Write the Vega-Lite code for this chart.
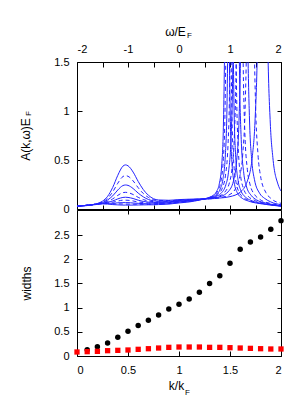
{
"$schema": "https://vega.github.io/schema/vega-lite/v6.json",
"padding": {"left": 18, "top": 24, "right": 5, "bottom": 5},
"background": "white",
"config": {
  "view": {"stroke": "black", "strokeWidth": 1},
  "axis": {"labelFont": "Liberation Sans", "labelFontSize": 11, "labelColor": "black", "titleFont": "Liberation Sans", "titleFontSize": 12, "titleFontWeight": "normal", "titleColor": "black", "tickColor": "black", "domain": false, "grid": false}
},
"datasets": {
"spec": [
{"c":1,"w":-2,"a":0.028},{"c":1,"w":-1.8,"a":0.038},{"c":1,"w":-1.6,"a":0.056},{"c":1,"w":-1.5,"a":0.080},{"c":1,"w":-1.4,"a":0.129},{"c":1,"w":-1.3,"a":0.220},{"c":1,"w":-1.2,"a":0.344},{"c":1,"w":-1.1,"a":0.437},{"c":1,"w":-1.05,"a":0.450},{"c":1,"w":-1.0,"a":0.441},{"c":1,"w":-0.9,"a":0.377},{"c":1,"w":-0.8,"a":0.281},{"c":1,"w":-0.7,"a":0.198},{"c":1,"w":-0.6,"a":0.140},{"c":1,"w":-0.5,"a":0.105},{"c":1,"w":-0.4,"a":0.092},{"c":1,"w":-0.2,"a":0.089},{"c":1,"w":0,"a":0.096},{"c":1,"w":0.2,"a":0.100},{"c":1,"w":0.4,"a":0.103},{"c":1,"w":0.6,"a":0.104},
{"c":1,"w":0.8,"a":0.112},{"c":1,"w":1.0,"a":0.126},{"c":1,"w":1.2,"a":0.172},{"c":1,"w":1.34,"a":0.285},{"c":1,"w":1.44,"a":0.547},{"c":1,"w":1.49,"a":0.89},{"c":1,"w":1.54,"a":1.73},{"c":1,"w":1.57,"a":2.9},{"c":1,"w":1.64,"a":4},{"c":1,"w":1.71,"a":2.9},{"c":1,"w":1.74,"a":1.72},{"c":1,"w":1.79,"a":0.877},{"c":1,"w":1.84,"a":0.527},{"c":1,"w":1.94,"a":0.254},{"c":1,"w":2.0,"a":0.184},
{"c":2,"w":-2,"a":0.028},{"c":2,"w":-1.8,"a":0.038},{"c":2,"w":-1.6,"a":0.054},{"c":2,"w":-1.5,"a":0.073},{"c":2,"w":-1.4,"a":0.109},{"c":2,"w":-1.3,"a":0.174},{"c":2,"w":-1.2,"a":0.263},{"c":2,"w":-1.1,"a":0.331},{"c":2,"w":-1.05,"a":0.340},{"c":2,"w":-1.0,"a":0.334},{"c":2,"w":-0.9,"a":0.287},{"c":2,"w":-0.8,"a":0.217},{"c":2,"w":-0.7,"a":0.158},{"c":2,"w":-0.6,"a":0.118},{"c":2,"w":-0.5,"a":0.096},{"c":2,"w":-0.4,"a":0.086},{"c":2,"w":-0.2,"a":0.085},{"c":2,"w":0,"a":0.091},{"c":2,"w":0.2,"a":0.096},{"c":2,"w":0.4,"a":0.100},{"c":2,"w":0.6,"a":0.104},
{"c":2,"w":0.8,"a":0.115},{"c":2,"w":1.0,"a":0.149},{"c":2,"w":1.1,"a":0.201},{"c":2,"w":1.2,"a":0.353},{"c":2,"w":1.25,"a":0.561},{"c":2,"w":1.3,"a":1.094},{"c":2,"w":1.33,"a":1.906},{"c":2,"w":1.35,"a":3.0},{"c":2,"w":1.4,"a":4},{"c":2,"w":1.45,"a":3.0},{"c":2,"w":1.47,"a":1.899},{"c":2,"w":1.5,"a":1.086},{"c":2,"w":1.55,"a":0.548},{"c":2,"w":1.6,"a":0.333},{"c":2,"w":1.7,"a":0.171},{"c":2,"w":1.8,"a":0.109},{"c":2,"w":2.0,"a":0.058},
{"c":3,"w":-2,"a":0.028},{"c":3,"w":-1.8,"a":0.038},{"c":3,"w":-1.6,"a":0.053},{"c":3,"w":-1.5,"a":0.067},{"c":3,"w":-1.4,"a":0.092},{"c":3,"w":-1.3,"a":0.134},{"c":3,"w":-1.2,"a":0.194},{"c":3,"w":-1.1,"a":0.239},{"c":3,"w":-1.05,"a":0.245},{"c":3,"w":-1.0,"a":0.241},{"c":3,"w":-0.9,"a":0.209},{"c":3,"w":-0.8,"a":0.162},{"c":3,"w":-0.7,"a":0.124},{"c":3,"w":-0.6,"a":0.097},{"c":3,"w":-0.5,"a":0.084},{"c":3,"w":-0.4,"a":0.079},{"c":3,"w":-0.2,"a":0.079},{"c":3,"w":0,"a":0.087},{"c":3,"w":0.2,"a":0.094},{"c":3,"w":0.4,"a":0.100},{"c":3,"w":0.6,"a":0.107},
{"c":3,"w":0.8,"a":0.125},{"c":3,"w":0.98,"a":0.186},{"c":3,"w":1.08,"a":0.314},{"c":3,"w":1.13,"a":0.490},{"c":3,"w":1.18,"a":0.959},{"c":3,"w":1.21,"a":1.70},{"c":3,"w":1.23,"a":2.76},{"c":3,"w":1.28,"a":4},{"c":3,"w":1.33,"a":2.75},{"c":3,"w":1.35,"a":1.70},{"c":3,"w":1.38,"a":0.954},{"c":3,"w":1.43,"a":0.480},{"c":3,"w":1.48,"a":0.299},{"c":3,"w":1.58,"a":0.161},{"c":3,"w":1.68,"a":0.108},{"c":3,"w":1.8,"a":0.072},{"c":3,"w":2.0,"a":0.044},
{"c":4,"w":-2,"a":0.028},{"c":4,"w":-1.8,"a":0.038},{"c":4,"w":-1.6,"a":0.052},{"c":4,"w":-1.5,"a":0.063},{"c":4,"w":-1.4,"a":0.078},{"c":4,"w":-1.3,"a":0.103},{"c":4,"w":-1.2,"a":0.139},{"c":4,"w":-1.1,"a":0.167},{"c":4,"w":-1.05,"a":0.170},{"c":4,"w":-1.0,"a":0.167},{"c":4,"w":-0.9,"a":0.148},{"c":4,"w":-0.8,"a":0.119},{"c":4,"w":-0.7,"a":0.096},{"c":4,"w":-0.6,"a":0.082},{"c":4,"w":-0.5,"a":0.075},{"c":4,"w":-0.4,"a":0.072},{"c":4,"w":-0.2,"a":0.074},{"c":4,"w":0,"a":0.082},{"c":4,"w":0.2,"a":0.090},{"c":4,"w":0.4,"a":0.098},{"c":4,"w":0.6,"a":0.108},
{"c":4,"w":0.8,"a":0.134},{"c":4,"w":0.89,"a":0.167},{"c":4,"w":0.99,"a":0.271},{"c":4,"w":1.04,"a":0.415},{"c":4,"w":1.09,"a":0.805},{"c":4,"w":1.12,"a":1.448},{"c":4,"w":1.14,"a":2.42},{"c":4,"w":1.19,"a":4},{"c":4,"w":1.24,"a":2.41},{"c":4,"w":1.26,"a":1.44},{"c":4,"w":1.29,"a":0.798},{"c":4,"w":1.34,"a":0.404},{"c":4,"w":1.39,"a":0.256},{"c":4,"w":1.49,"a":0.142},{"c":4,"w":1.59,"a":0.096},{"c":4,"w":1.8,"a":0.056},{"c":4,"w":2.0,"a":0.037},
{"c":5,"w":-2,"a":0.028},{"c":5,"w":-1.8,"a":0.038},{"c":5,"w":-1.6,"a":0.051},{"c":5,"w":-1.5,"a":0.060},{"c":5,"w":-1.4,"a":0.069},{"c":5,"w":-1.3,"a":0.082},{"c":5,"w":-1.2,"a":0.103},{"c":5,"w":-1.1,"a":0.118},{"c":5,"w":-1.05,"a":0.120},{"c":5,"w":-1.0,"a":0.118},{"c":5,"w":-0.9,"a":0.107},{"c":5,"w":-0.8,"a":0.090},{"c":5,"w":-0.7,"a":0.077},{"c":5,"w":-0.6,"a":0.070},{"c":5,"w":-0.5,"a":0.067},{"c":5,"w":-0.4,"a":0.067},{"c":5,"w":-0.2,"a":0.070},{"c":5,"w":0,"a":0.079},{"c":5,"w":0.2,"a":0.087},{"c":5,"w":0.4,"a":0.097},{"c":5,"w":0.6,"a":0.111},
{"c":5,"w":0.72,"a":0.127},{"c":5,"w":0.82,"a":0.158},{"c":5,"w":0.92,"a":0.249},{"c":5,"w":0.97,"a":0.375},{"c":5,"w":1.02,"a":0.716},{"c":5,"w":1.05,"a":1.28},{"c":5,"w":1.07,"a":2.13},{"c":5,"w":1.12,"a":4},{"c":5,"w":1.17,"a":2.12},{"c":5,"w":1.19,"a":1.27},{"c":5,"w":1.22,"a":0.711},{"c":5,"w":1.27,"a":0.366},{"c":5,"w":1.32,"a":0.235},{"c":5,"w":1.42,"a":0.136},{"c":5,"w":1.52,"a":0.093},{"c":5,"w":1.7,"a":0.061},{"c":5,"w":2.0,"a":0.034},
{"c":6,"w":-2,"a":0.028},{"c":6,"w":-1.8,"a":0.038},{"c":6,"w":-1.6,"a":0.051},{"c":6,"w":-1.5,"a":0.058},{"c":6,"w":-1.4,"a":0.063},{"c":6,"w":-1.3,"a":0.069},{"c":6,"w":-1.2,"a":0.081},{"c":6,"w":-1.1,"a":0.090},{"c":6,"w":-1.05,"a":0.090},{"c":6,"w":-1.0,"a":0.089},{"c":6,"w":-0.9,"a":0.082},{"c":6,"w":-0.8,"a":0.072},{"c":6,"w":-0.7,"a":0.066},{"c":6,"w":-0.6,"a":0.061},{"c":6,"w":-0.5,"a":0.060},{"c":6,"w":-0.4,"a":0.061},{"c":6,"w":-0.2,"a":0.065},{"c":6,"w":0,"a":0.074},{"c":6,"w":0.2,"a":0.083},{"c":6,"w":0.4,"a":0.096},{"c":6,"w":0.6,"a":0.113},
{"c":6,"w":0.66,"a":0.121},{"c":6,"w":0.76,"a":0.148},{"c":6,"w":0.86,"a":0.228},{"c":6,"w":0.91,"a":0.338},{"c":6,"w":0.96,"a":0.643},{"c":6,"w":0.99,"a":1.166},{"c":6,"w":1.01,"a":2.01},{"c":6,"w":1.06,"a":4},{"c":6,"w":1.11,"a":2.0},{"c":6,"w":1.13,"a":1.16},{"c":6,"w":1.16,"a":0.638},{"c":6,"w":1.21,"a":0.33},{"c":6,"w":1.26,"a":0.216},{"c":6,"w":1.36,"a":0.128},{"c":6,"w":1.46,"a":0.094},{"c":6,"w":1.7,"a":0.055},{"c":6,"w":2.0,"a":0.032},
{"c":7,"w":-2,"a":0.028},{"c":7,"w":-1.8,"a":0.038},{"c":7,"w":-1.6,"a":0.050},{"c":7,"w":-1.5,"a":0.056},{"c":7,"w":-1.4,"a":0.059},{"c":7,"w":-1.3,"a":0.058},{"c":7,"w":-1.2,"a":0.063},{"c":7,"w":-1.1,"a":0.065},{"c":7,"w":-1.05,"a":0.065},{"c":7,"w":-1.0,"a":0.065},{"c":7,"w":-0.9,"a":0.061},{"c":7,"w":-0.8,"a":0.058},{"c":7,"w":-0.7,"a":0.055},{"c":7,"w":-0.6,"a":0.053},{"c":7,"w":-0.5,"a":0.053},{"c":7,"w":-0.4,"a":0.056},{"c":7,"w":-0.2,"a":0.060},{"c":7,"w":0,"a":0.070},{"c":7,"w":0.2,"a":0.080},{"c":7,"w":0.4,"a":0.093},{"c":7,"w":0.6,"a":0.115},
{"c":7,"w":0.71,"a":0.138},{"c":7,"w":0.81,"a":0.206},{"c":7,"w":0.86,"a":0.299},{"c":7,"w":0.91,"a":0.560},{"c":7,"w":0.94,"a":1.02},{"c":7,"w":0.96,"a":1.80},{"c":7,"w":1.01,"a":4},{"c":7,"w":1.06,"a":1.79},{"c":7,"w":1.08,"a":1.01},{"c":7,"w":1.11,"a":0.553},{"c":7,"w":1.16,"a":0.288},{"c":7,"w":1.21,"a":0.192},{"c":7,"w":1.31,"a":0.118},{"c":7,"w":1.41,"a":0.088},{"c":7,"w":1.7,"a":0.050},{"c":7,"w":2.0,"a":0.030},
{"c":8,"w":-2,"a":0.028},{"c":8,"w":-1.8,"a":0.038},{"c":8,"w":-1.6,"a":0.050},{"c":8,"w":-1.5,"a":0.055},{"c":8,"w":-1.4,"a":0.056},{"c":8,"w":-1.3,"a":0.052},{"c":8,"w":-1.2,"a":0.052},{"c":8,"w":-1.1,"a":0.051},{"c":8,"w":-1.05,"a":0.050},{"c":8,"w":-1.0,"a":0.050},{"c":8,"w":-0.9,"a":0.049},{"c":8,"w":-0.8,"a":0.049},{"c":8,"w":-0.7,"a":0.048},{"c":8,"w":-0.6,"a":0.047},{"c":8,"w":-0.5,"a":0.047},{"c":8,"w":-0.4,"a":0.050},{"c":8,"w":-0.2,"a":0.055},{"c":8,"w":0,"a":0.066},{"c":8,"w":0.2,"a":0.077},{"c":8,"w":0.4,"a":0.092},{"c":8,"w":0.6,"a":0.118},
{"c":8,"w":0.67,"a":0.134},{"c":8,"w":0.77,"a":0.193},{"c":8,"w":0.82,"a":0.278},{"c":8,"w":0.87,"a":0.513},{"c":8,"w":0.9,"a":0.928},{"c":8,"w":0.92,"a":1.63},{"c":8,"w":0.97,"a":4},{"c":8,"w":1.02,"a":1.62},{"c":8,"w":1.04,"a":0.92},{"c":8,"w":1.07,"a":0.506},{"c":8,"w":1.12,"a":0.268},{"c":8,"w":1.17,"a":0.180},{"c":8,"w":1.27,"a":0.114},{"c":8,"w":1.37,"a":0.087},{"c":8,"w":1.7,"a":0.048},{"c":8,"w":2.0,"a":0.029},
{"c":9,"w":-2,"a":0.025},{"c":9,"w":-1.8,"a":0.035},{"c":9,"w":-1.6,"a":0.047},{"c":9,"w":-1.5,"a":0.052},{"c":9,"w":-1.4,"a":0.050},{"c":9,"w":-1.3,"a":0.045},{"c":9,"w":-1.2,"a":0.042},{"c":9,"w":-1.1,"a":0.040},{"c":9,"w":-1.05,"a":0.040},{"c":9,"w":-1.0,"a":0.040},{"c":9,"w":-0.9,"a":0.040},{"c":9,"w":-0.8,"a":0.041},{"c":9,"w":-0.7,"a":0.042},{"c":9,"w":-0.6,"a":0.043},{"c":9,"w":-0.5,"a":0.043},{"c":9,"w":-0.4,"a":0.045},{"c":9,"w":-0.2,"a":0.050},{"c":9,"w":0,"a":0.062},{"c":9,"w":0.2,"a":0.072},{"c":9,"w":0.4,"a":0.091},{"c":9,"w":0.6,"a":0.120},
{"c":9,"w":0.64,"a":0.129},{"c":9,"w":0.74,"a":0.182},{"c":9,"w":0.79,"a":0.257},{"c":9,"w":0.84,"a":0.466},{"c":9,"w":0.87,"a":0.835},{"c":9,"w":0.89,"a":1.46},{"c":9,"w":0.94,"a":4},{"c":9,"w":0.99,"a":1.45},{"c":9,"w":1.01,"a":0.83},{"c":9,"w":1.04,"a":0.459},{"c":9,"w":1.09,"a":0.247},{"c":9,"w":1.14,"a":0.169},{"c":9,"w":1.24,"a":0.109},{"c":9,"w":1.34,"a":0.085},{"c":9,"w":1.7,"a":0.047},{"c":9,"w":2.0,"a":0.029}
],
"widths": [
{"series":"a","k":0.1,"v":0.13},{"series":"a","k":0.2,"v":0.19},{"series":"a","k":0.3,"v":0.27},{"series":"a","k":0.4,"v":0.39},{"series":"a","k":0.5,"v":0.51},{"series":"a","k":0.6,"v":0.63},{"series":"a","k":0.7,"v":0.74},{"series":"a","k":0.8,"v":0.85},{"series":"a","k":0.9,"v":0.97},{"series":"a","k":1.0,"v":1.07},{"series":"a","k":1.1,"v":1.18},{"series":"a","k":1.2,"v":1.32},{"series":"a","k":1.3,"v":1.50},{"series":"a","k":1.4,"v":1.66},{"series":"a","k":1.5,"v":1.92},{"series":"a","k":1.6,"v":2.21},{"series":"a","k":1.7,"v":2.36},{"series":"a","k":1.8,"v":2.46},{"series":"a","k":1.9,"v":2.62},{"series":"a","k":2.0,"v":2.80},
{"series":"b","k":0,"v":0.083},{"series":"b","k":0.1,"v":0.090},{"series":"b","k":0.2,"v":0.096},{"series":"b","k":0.3,"v":0.110},{"series":"b","k":0.4,"v":0.117},{"series":"b","k":0.5,"v":0.124},{"series":"b","k":0.6,"v":0.138},{"series":"b","k":0.7,"v":0.151},{"series":"b","k":0.8,"v":0.165},{"series":"b","k":0.9,"v":0.179},{"series":"b","k":1.0,"v":0.186},{"series":"b","k":1.1,"v":0.186},{"series":"b","k":1.2,"v":0.186},{"series":"b","k":1.3,"v":0.179},{"series":"b","k":1.4,"v":0.179},{"series":"b","k":1.5,"v":0.172},{"series":"b","k":1.6,"v":0.165},{"series":"b","k":1.7,"v":0.158},{"series":"b","k":1.8,"v":0.151},{"series":"b","k":1.9,"v":0.145},{"series":"b","k":2.0,"v":0.145}
]
},
"spacing": 1,
"bounds": "flush",
"vconcat": [
{
  "width": 204, "height": 147,
  "data": {"name": "spec"},
  "layer": [
    {
      "transform": [{"filter": "datum.c % 2 == 1"}],
      "mark": {"type": "line", "clip": true, "interpolate": "monotone", "color": "#2222ff", "strokeWidth": 1},
      "encoding": {
        "x": {"field": "w", "type": "quantitative", "scale": {"domain": [-2, 2], "nice": false},
          "axis": {"orient": "top", "values": [-2,-1.5,-1,-0.5,0,0.5,1,1.5,2], "labelExpr": "datum.value % 1 == 0 ? toString(datum.value) : ''", "tickSize": -5, "labelPadding": 13, "title": "ω/E", "titleX": 98, "titleY": -31, "titleAlign": "center", "titleBaseline": "middle", "titleAngle": 0}},
        "y": {"field": "a", "type": "quantitative", "scale": {"domain": [0, 1.5], "nice": false},
          "axis": {"orient": "left", "values": [0,0.5,1,1.5], "labelExpr": "toString(datum.value)", "tickSize": -5, "labelPadding": 13, "title": "A(k,ω)E", "titleX": -52, "titleY": 77, "titleAngle": 270, "titleAlign": "center", "titleBaseline": "middle"}},
        "detail": {"field": "c", "type": "nominal"}
      }
    },
    {
      "transform": [{"filter": "datum.c % 2 == 0"}],
      "mark": {"type": "line", "clip": true, "interpolate": "monotone", "color": "#2222ff", "strokeWidth": 1, "strokeDash": [4, 3]},
      "encoding": {
        "x": {"field": "w", "type": "quantitative", "scale": {"domain": [-2, 2], "nice": false},
          "axis": {"orient": "bottom", "values": [-2,-1.5,-1,-0.5,0,0.5,1,1.5,2], "labels": false, "tickSize": -4, "title": "F", "titleFontSize": 8, "titleX": 112, "titleY": -174, "titleAlign": "center", "titleBaseline": "middle", "titleAngle": 0}},
        "y": {"field": "a", "type": "quantitative", "scale": {"domain": [0, 1.5], "nice": false},
          "axis": {"orient": "right", "values": [0,0.5,1,1.5], "labels": false, "tickSize": -4, "title": "F", "titleFontSize": 8, "titleX": -253, "titleY": 51, "titleAngle": 270, "titleAlign": "center", "titleBaseline": "middle"}},
        "detail": {"field": "c", "type": "nominal"}
      }
    }
  ],
  "resolve": {"axis": {"x": "independent", "y": "independent"}}
},
{
  "width": 204, "height": 146,
  "data": {"name": "widths"},
  "layer": [
    {
      "transform": [{"filter": "datum.series == 'a'"}],
      "mark": {"type": "point", "shape": "circle", "filled": true, "color": "black", "size": 30, "opacity": 1},
      "encoding": {
        "x": {"field": "k", "type": "quantitative", "scale": {"domain": [0, 2], "nice": false},
          "axis": {"orient": "bottom", "values": [0,0.5,1,1.5,2], "labelExpr": "toString(datum.value)", "tickSize": -5, "labelPadding": 13, "title": "k/k", "titleX": 99, "titleY": 29, "titleAlign": "center", "titleBaseline": "middle", "titleAngle": 0}},
        "y": {"field": "v", "type": "quantitative", "scale": {"domain": [0, 3.02], "nice": false},
          "axis": {"orient": "left", "values": [0,0.5,1,1.5,2,2.5], "labelExpr": "toString(datum.value)", "tickSize": -5, "labelPadding": 13, "title": "widths", "titleX": -51, "titleY": 73, "titleAngle": 270, "titleAlign": "center", "titleBaseline": "middle"}}
      }
    },
    {
      "transform": [{"filter": "datum.series == 'b'"}],
      "mark": {"type": "point", "shape": "square", "filled": true, "color": "#ff0000", "size": 28, "opacity": 1},
      "encoding": {
        "x": {"field": "k", "type": "quantitative", "scale": {"domain": [0, 2], "nice": false},
          "axis": {"orient": "top", "values": [0,0.5,1,1.5,2], "labels": false, "tickSize": -4, "title": "F", "titleFontSize": 8, "titleX": 110, "titleY": 182, "titleAlign": "center", "titleBaseline": "middle", "titleAngle": 0}},
        "y": {"field": "v", "type": "quantitative", "scale": {"domain": [0, 3.02], "nice": false},
          "axis": {"orient": "right", "values": [0,0.5,1,1.5,2,2.5], "labels": false, "tickSize": -4, "title": null}}
      }
    }
  ],
  "resolve": {"axis": {"x": "independent", "y": "independent"}}
}
]
}
